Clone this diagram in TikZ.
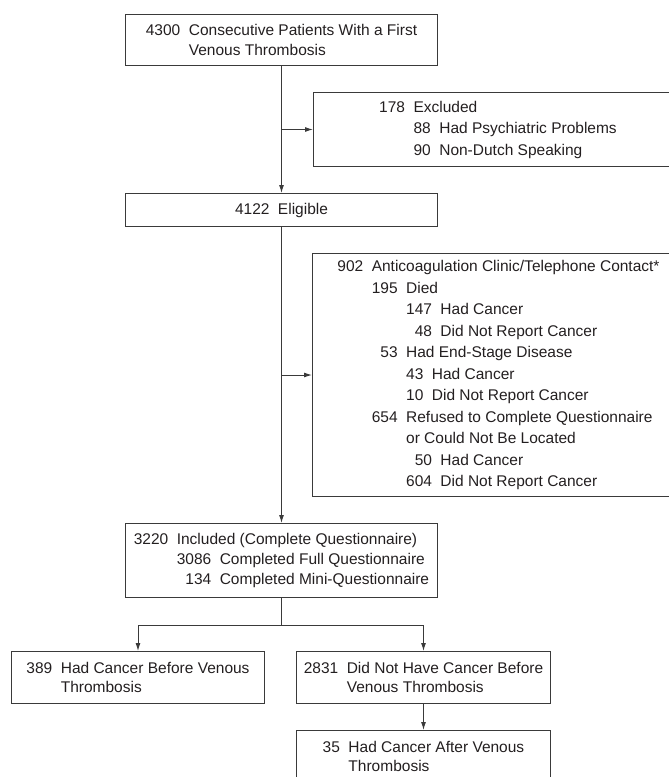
\documentclass[tikz,border=0pt]{standalone}
\usepackage{fontspec}
\setmainfont{Liberation Sans}
\usetikzlibrary{arrows.meta}

\definecolor{boxline}{HTML}{3A3A3A}
\definecolor{txt}{HTML}{231F20}

\newcommand{\lbl}[1]{#1\hspace{8.5pt}}
\newcommand{\hang}[1]{\hphantom{#1}\hspace{8.5pt}}
\newcommand{\rnum}[1]{\hphantom{000}\llap{#1}\hspace{8.5pt}}
\newcommand{\rnumiv}[1]{\hphantom{0000}\llap{#1}\hspace{8.5pt}}
\newcommand{\ind}{\hphantom{000}\hspace{8.5pt}}

\tikzset{
  flowbox/.style={draw=boxline, line width=1pt, rectangle, anchor=north west,
    inner sep=0pt, align=left, text=txt,
    font=\fontsize{15.5}{19.5}\selectfont},
  bigbox/.style={flowbox, font=\fontsize{15.5}{21.5}\selectfont}
}

\begin{document}
\begin{tikzpicture}[x=1pt, y=1pt]

\useasboundingbox (0,0) rectangle (669,-777);
\clip (0,0) rectangle (669,-777);

\node [flowbox, minimum width=312, minimum height=51] (start) at (125,-14)
  {\lbl{4300}Consecutive Patients With a First\\\hang{4300}Venous Thrombosis};
\node [bigbox, minimum width=369, minimum height=74] (excl) at (313,-92)
  {\lbl{178}Excluded\\\hang{178}\lbl{88}Had Psychiatric Problems\\\hang{178}\lbl{90}Non-Dutch Speaking};
\node [flowbox, minimum width=312, minimum height=33] (elig) at (125,-193)
  {\lbl{4122}Eligible};
\node [bigbox, minimum width=372, minimum height=243] (lost) at (312,-253)
  {\rnum{902}Anticoagulation Clinic/Telephone Contact*\\
   \ind\rnum{195}Died\\
   \ind\ind\rnum{147}Had Cancer\\
   \ind\ind\rnum{48}Did Not Report Cancer\\
   \ind\rnum{53}Had End-Stage Disease\\
   \ind\ind\lbl{43}Had Cancer\\
   \ind\ind\lbl{10}Did Not Report Cancer\\
   \ind\rnum{654}Refused to Complete Questionnaire\\
   \ind\ind or Could Not Be Located\\
   \ind\ind\rnum{50}Had Cancer\\
   \ind\ind\rnum{604}Did Not Report Cancer};
\node [flowbox, font=\fontsize{15.5}{20}\selectfont, minimum width=312, minimum height=74] (incl) at (125,-523)
  {\lbl{3220}Included (Complete Questionnaire)\\
   \hang{3220}\rnumiv{3086}Completed Full Questionnaire\\
   \hang{3220}\rnumiv{134}Completed Mini-Questionnaire};
\node [flowbox, minimum width=253, minimum height=52] (canc) at (11,-651)
  {\lbl{389}Had Cancer Before Venous\\\hang{389}Thrombosis};
\node [flowbox, minimum width=254, minimum height=52] (noca) at (296,-651)
  {\lbl{2831}Did Not Have Cancer Before\\\hang{2831}Venous Thrombosis};
\node [flowbox, minimum width=254, minimum height=52] (after) at (296,-730)
  {\lbl{35}Had Cancer After Venous\\\hang{35}Thrombosis};

\begin{scope}[draw=boxline, line width=1pt, ->, >={Latex[length=8pt,width=5pt]}]
\draw (start.south) -- (elig.north); %start-elig
\draw (start.south |- excl.west) -- (excl.west); %line-excl
\draw (elig.south) -- (incl.north); %elig-incl
\draw (elig.south |- lost.west) -- (lost.west); %line-lost
\draw [-] (incl.south) -- ++(0,-27) coordinate (split); %incl-split
\draw (split) -| (canc.north); %split-canc
\draw (split) -| (noca.north); %split-noca
\draw (noca.south) -- (after.north); %noca-after
\end{scope}

\end{tikzpicture}
\end{document}
